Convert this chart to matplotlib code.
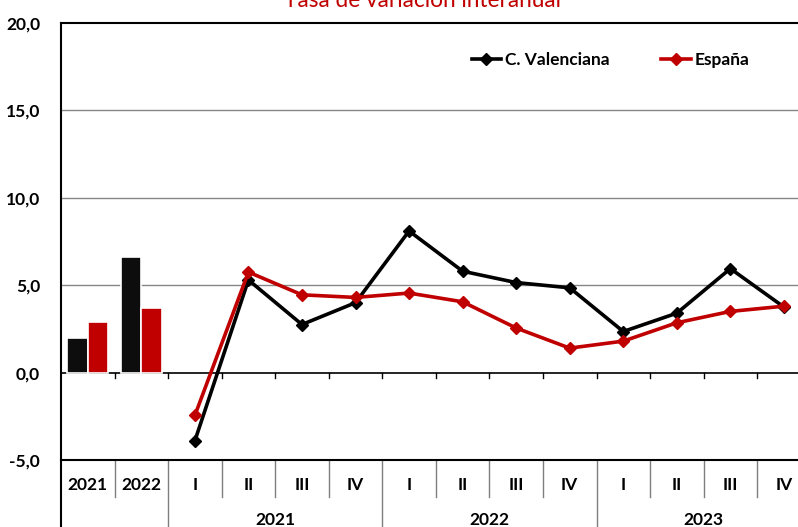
import numpy as np
import matplotlib
matplotlib.use("Agg")
import matplotlib.pyplot as plt

plt.rcParams['font.family'] = ['Lato', 'DejaVu Sans']

# annual bars
years = ['2021', '2022']
cv_year = [2.0, 6.6]
esp_year = [2.9, 3.7]

# quarterly lines
quarters = ['I', 'II', 'III', 'IV'] * 3
q_years = ['2021', '2022', '2023']
cv_q = [-3.9, 5.3, 2.75, 4.0, 8.1, 5.8, 5.15, 4.85, 2.35, 3.4, 5.95, 3.75]
esp_q = [-2.45, 5.75, 4.45, 4.3, 4.55, 4.05, 2.55, 1.4, 1.8, 2.85, 3.5, 3.8]

black = '#000000'
red = '#C00000'

fig = plt.figure(figsize=(7.98, 5.27), dpi=100)
W, H = 798, 527
ax = fig.add_axes([61 / W, (H - 460) / H, 749.7 / W, (460 - 23) / H])

xb = np.arange(len(years))
ax.bar(xb - 0.19, cv_year, width=0.38, color='#0d0d0d', edgecolor='white', linewidth=1.2, zorder=3)
ax.bar(xb + 0.19, esp_year, width=0.38, color=red, edgecolor='white', linewidth=1.2, zorder=3)

xq = np.arange(len(cv_q)) + len(years)
ax.plot(xq, cv_q, color=black, lw=2.6, marker='D', ms=6, zorder=4, label='C. Valenciana')
ax.plot(xq, esp_q, color=red, lw=2.6, marker='D', ms=6, zorder=5, label='España')

ax.set_xlim(-0.5, 13.5)
ax.set_ylim(-5, 20)
ax.set_yticks([-5, 0, 5, 10, 15, 20])
ax.set_yticklabels(['-5,0', '0,0', '5,0', '10,0', '15,0', '20,0'], fontsize=12.5, fontweight='bold')
ax.tick_params(axis='y', length=0, pad=15)
ax.set_xticks([])
for y in [5, 10, 15]:
    ax.axhline(y, color='#868686', lw=1, zorder=1)
ax.axhline(0, color=black, lw=1.2, zorder=2)
for xt in np.arange(0.5, 13.5, 1):
    ax.plot([xt, xt], [0, -0.3], color=black, lw=1, zorder=2, clip_on=False)

for s in ['left', 'top', 'bottom']:
    ax.spines[s].set_linewidth(1.5)
    ax.spines[s].set_color(black)
ax.spines['right'].set_visible(False)

# category table under the axis
tr = ax.get_xaxis_transform()
row1 = -37 / 437
bot = -70 / 437
for i, lab in enumerate(years + quarters):
    ax.text(i, -25 / 437, lab, transform=tr, ha='center', va='center',
            fontsize=12.5, fontweight='bold')
for xt in np.arange(0.5, 13.5, 1):
    full = xt in (1.5, 5.5, 9.5)
    ax.plot([xt, xt], [0, bot if full else row1], transform=tr, color='#7f7f7f',
            lw=1, clip_on=False)
ax.plot([-0.5, -0.5], [0, bot], transform=tr, color=black, lw=1.5, clip_on=False)
for k, yr in enumerate(q_years):
    ax.text(2 + 4 * k + 1.5, -60 / 437, yr, transform=tr, ha='center', va='center',
            fontsize=12.5, fontweight='bold')

leg = ax.legend(loc='upper left', bbox_to_anchor=(0.527, 0.97), ncol=2, frameon=False,
                handlelength=1.7, handletextpad=0.2, columnspacing=3.0,
                prop={'weight': 'bold', 'size': 12.5})

fig.text(422 / W, 1 - 7 / H, 'Tasa de variación interanual', color=red, fontsize=16.3,
         ha='center', va='baseline')

fig.savefig('out.png', dpi=100)
